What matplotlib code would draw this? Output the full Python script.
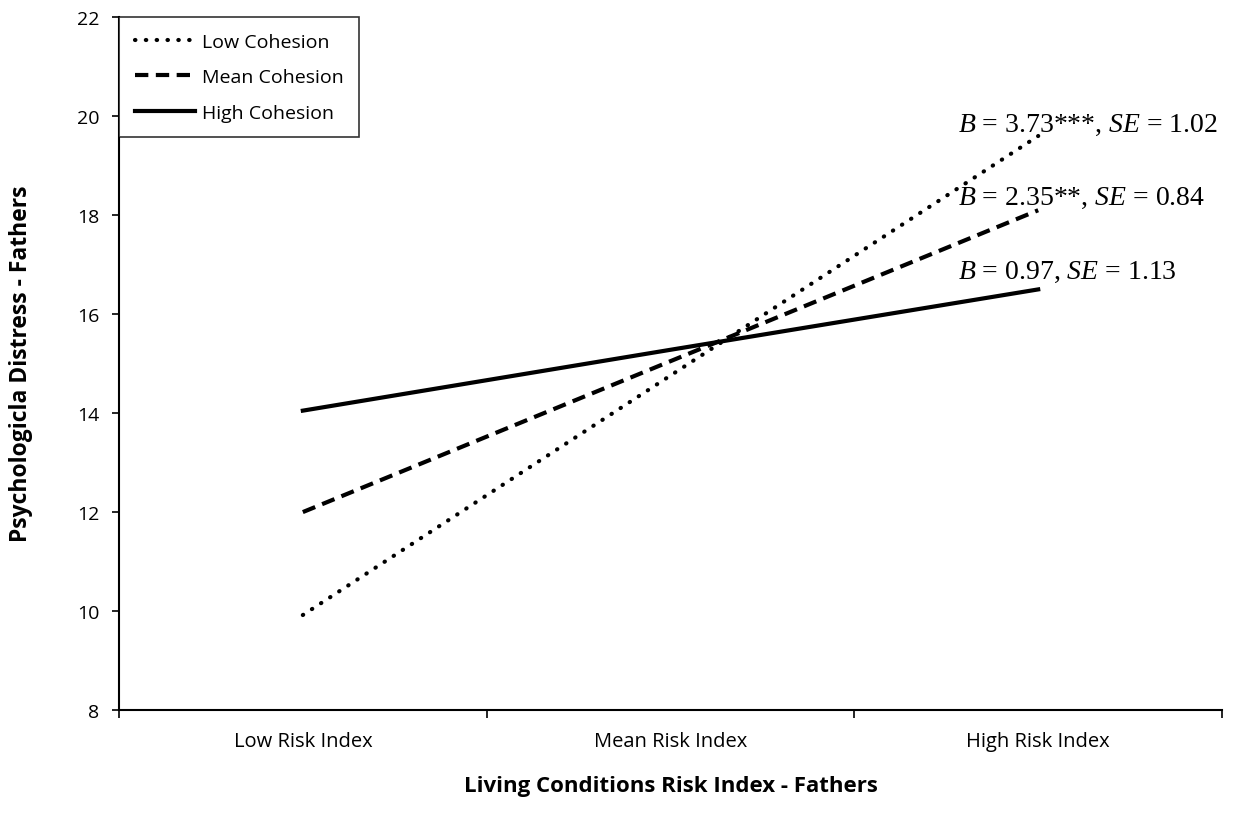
import matplotlib.pyplot as plt

plt.rcParams['font.family'] = ['Open Sans', 'DejaVu Sans']
plt.rcParams['mathtext.fontset'] = 'custom'
plt.rcParams['mathtext.rm'] = 'Liberation Serif'
plt.rcParams['mathtext.it'] = 'Liberation Serif:italic'

categories = ["Low Risk Index", "Mean Risk Index", "High Risk Index"]
low_cohesion = [9.92, 14.76, 19.60]
mean_cohesion = [12.0, 15.05, 18.1]
high_cohesion = [14.05, 15.28, 16.5]

notes = [r"$\it{B}$ = 3.73***, $\it{SE}$ = 1.02",
         r"$\it{B}$ = 2.35**, $\it{SE}$ = 0.84",
         r"$\it{B}$ = 0.97, $\it{SE}$ = 1.13"]
note_y = [19.84, 18.36, 16.87]

fig = plt.figure(figsize=(12.37, 8.29), dpi=100)
ax = fig.add_axes([0.0962, 0.1423, 0.8917, 0.8357])

x = range(len(categories))
ax.plot(x, low_cohesion, color='black', lw=3.0, linestyle=(0, (0.1, 2.5)),
        dash_capstyle='round', label="Low Cohesion")
ax.plot(x, mean_cohesion, color='black', lw=3.0, linestyle=(0, (3.2, 1.8)),
        label="Mean Cohesion")
ax.plot(x, high_cohesion, color='black', lw=3.0, label="High Cohesion")

for txt, yy in zip(notes, note_y):
    ax.text(1.782, yy, txt, family='Liberation Serif', fontsize=20,
            va='center', ha='left')

ax.set_xlim(-0.5, 2.5)
ax.set_ylim(8, 22)
ax.set_yticks(range(8, 23, 2))
ax.set_xticks([-0.5, 0.5, 1.5, 2.5])
ax.set_xticklabels([])
ax.set_xticks(list(x), minor=True)
ax.set_xticklabels(categories, minor=True, fontsize=14.5)
ax.tick_params(axis='x', which='minor', length=0, pad=15)
ax.tick_params(axis='x', which='major', length=6, width=1.2, direction='out')
ax.tick_params(axis='y', length=5, width=1.2, direction='out', labelsize=14, pad=9)

for s in ['top', 'right']:
    ax.spines[s].set_visible(False)
for s in ['left', 'bottom']:
    ax.spines[s].set_linewidth(1.5)

fig.text(0.5425, 1 - 787 / 829, "Living Conditions Risk Index - Fathers",
         fontsize=16, fontweight='bold', ha='center', va='center')
fig.text(21 / 1237, 1 - 364 / 829, "Psychologicla Distress - Fathers",
         fontsize=16.5, fontweight='bold', ha='center', va='center', rotation=90)

leg = ax.legend(loc='upper left', bbox_to_anchor=(0, 1), borderaxespad=0,
                fancybox=False, edgecolor='black', fontsize=14,
                handlelength=3.1, handletextpad=0.35, labelspacing=0.9,
                borderpad=0.8)
leg.get_frame().set_linewidth(1.2)

fig.savefig("out.png")
